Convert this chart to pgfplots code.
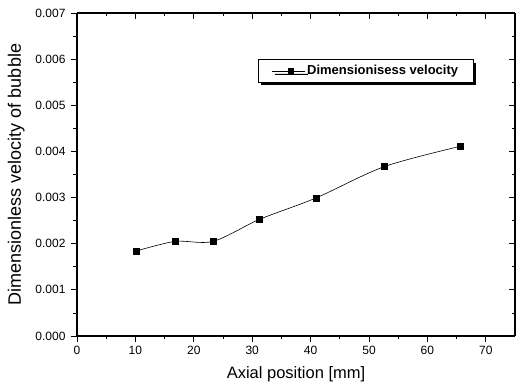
\documentclass[border=0pt]{standalone}
\usepackage{fontspec}
\setmainfont{Liberation Sans}
\usepackage{pgfplots}
\pgfplotsset{compat=1.18}
\usetikzlibrary{shadows}
\begin{document}
\begin{tikzpicture}
\pgfplotsset{
  common/.style={
    width=438pt, height=323pt, scale only axis,
    xmin=0, xmax=75, ymin=0, ymax=0.007,
    xtick={0,10,...,70}, minor x tick num=1,
    ytick={0,0.001,...,0.0071}, minor y tick num=1,
    scaled y ticks=false,
    /pgf/number format/assume math mode=true,
    major tick length=6pt, minor tick length=3.5pt,
    every tick/.style={black, line width=0.8pt},
    axis line style={line width=1.1pt},
  }
}
\begin{axis}[common,
  axis x line*=bottom, axis y line*=left,
  tick align=outside,
  tick label style={font=\fontsize{12}{14}\selectfont},
  yticklabel={\pgfmathprintnumber[fixed, fixed zerofill, precision=3, assume math mode=true]{\tick}},
  y tick label style={xshift=-2pt},
  x tick label style={yshift=-1pt},
  xlabel={Axial position [mm]},
  ylabel={Dimensionless velocity of bubble},
  xlabel style={font=\fontsize{16.5}{18}\selectfont, yshift=-5pt},
  ylabel style={font=\fontsize{18}{20}\selectfont, yshift=4pt},
  legend style={at={(0.413,0.857)}, anchor=north west, draw=black, line width=0.7pt,
    fill=white, drop shadow={shadow xshift=3pt, shadow yshift=-3pt, fill=black, opacity=1},
    font=\fontsize{13}{15}\selectfont\bfseries, inner xsep=13pt, inner ysep=4pt,
    legend cell align=left},
  legend image code/.code={
    \draw[line width=0.9pt] (0pt,0pt) -- (33pt,0pt);
    \draw[fill=black] (16.5pt,0pt) node[rectangle, fill=black, inner sep=0pt, minimum size=6pt] {};
  },
]
\addplot[black, line width=0.6pt, smooth, tension=0.5, mark=square*, mark size=3pt,
  mark options={solid, fill=black}]
  coordinates {
    (10.1,0.00184)
    (16.8,0.00205)
    (23.3,0.00205)
    (31.3,0.00253)
    (40.9,0.00299)
    (52.6,0.00367)
    (65.6,0.00411)
  };
\addlegendentry{Dimensionisess velocity}
\end{axis}
\begin{axis}[common,
  axis x line*=top, axis y line*=right,
  tick align=inside,
  xticklabels={}, yticklabels={},
]
\end{axis}
\path ([shift={(-77pt,-53pt)}]current axis.south west) rectangle ([shift={(15pt,13pt)}]current axis.north east);
\end{tikzpicture}
\end{document}
